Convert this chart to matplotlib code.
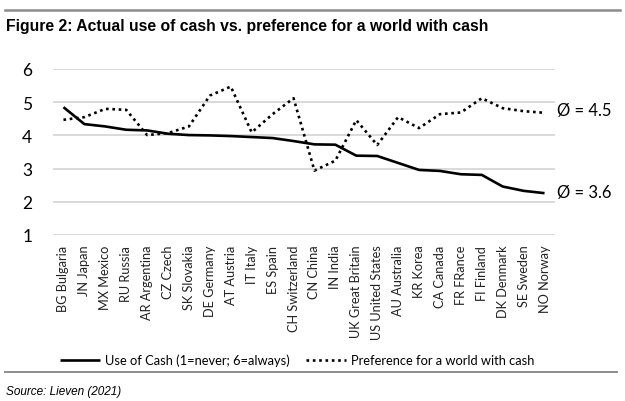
import matplotlib
matplotlib.use("Agg")
import matplotlib.pyplot as plt
from matplotlib.lines import Line2D

countries = ["BG Bulgaria", "JN Japan", "MX Mexico", "RU Russia", "AR Argentina", "CZ Czech",
             "SK Slovakia", "DE Germany", "AT Austria", "IT Italy", "ES Spain", "CH Switzerland",
             "CN China", "IN India", "UK Great Britain", "US United States", "AU Australia",
             "KR Korea", "CA Canada", "FR FRance", "FI Finland", "DK Denmark", "SE Sweden", "NO Norway"]
use_of_cash = [4.85, 4.34, 4.27, 4.17, 4.15, 4.05, 4.01, 4.00, 3.98, 3.95, 3.92, 3.83,
               3.73, 3.72, 3.39, 3.38, 3.17, 2.96, 2.93, 2.83, 2.81, 2.46, 2.33, 2.26]
preference = [4.47, 4.55, 4.80, 4.77, 4.01, 4.07, 4.27, 5.20, 5.47, 4.09, 4.64, 5.12,
              2.94, 3.24, 4.46, 3.71, 4.55, 4.22, 4.64, 4.69, 5.12, 4.82, 4.73, 4.68]
yticks = [1, 2, 3, 4, 5, 6]
avg_use = "Ø = 3.6"
avg_pref = "Ø = 4.5"
legend_labels = ["Use of Cash (1=never; 6=always)", "Preference for a world with cash"]
title = "Figure 2: Actual use of cash vs. preference for a world with cash"
source = "Source: Lieven (2021)"

W, H = 625, 402
fig = plt.figure(figsize=(W / 100, H / 100), dpi=100)
fig.patch.set_facecolor("white")

ax = fig.add_axes([53 / W, (H - 236) / H, (555 - 53) / W, (236 - 70) / H])
x = list(range(len(countries)))
l1, = ax.plot(x, use_of_cash, color="black", lw=1.9, solid_capstyle="butt", clip_on=False)
l2, = ax.plot(x, preference, color="black", lw=1.9, linestyle=(0, (1, 1.4)), clip_on=False)
ax.set_xlim(-0.5, len(countries) - 0.5)
ax.set_ylim(1, 6)
ax.set_yticks(yticks)
ax.set_yticklabels([str(t) for t in yticks], fontsize=12.5, family="Lato")
ax.yaxis.grid(True, color="#d9d9d9", lw=1.4)
ax.set_axisbelow(True)
ax.set_xticks(x)
ax.set_xticklabels(countries, rotation=90, fontsize=9.2, family="Lato", color="#222222")
ax.tick_params(axis="both", length=0)
ax.tick_params(axis="y", pad=15)
ax.tick_params(axis="x", pad=7)
for s in ax.spines.values():
    s.set_visible(False)

ax.annotate(avg_pref, xy=(len(countries) - 1, preference[-1]), xytext=(9, 2),
            textcoords="offset points", fontsize=12, family="Lato", va="center", ha="left",
            annotation_clip=False)
ax.annotate(avg_use, xy=(len(countries) - 1, use_of_cash[-1]), xytext=(9, 1),
            textcoords="offset points", fontsize=12, family="Lato", va="center", ha="left",
            annotation_clip=False)

fig.legend([l1, l2], legend_labels, ncol=2, frameon=False, loc="center",
           bbox_to_anchor=(297 / W, (H - 361) / H),
           prop={"family": "Lato", "size": 9.3},
           handlelength=3.1, handletextpad=0.35, columnspacing=1.3)

fig.add_artist(Line2D([5 / W, 620 / W], [(H - 11) / H] * 2, color="#8c8c8c", lw=1.8))
fig.add_artist(Line2D([5 / W, 617 / W], [(H - 373) / H] * 2, color="#8c8c8c", lw=1.4))
fig.text(6 / W, (H - 27) / H, title, fontsize=11.3, fontweight="bold",
         family="Liberation Sans", va="center", ha="left")
fig.text(6 / W, (H - 392) / H, source, fontsize=8.5, style="italic",
         family="Liberation Sans", va="center", ha="left")

fig.savefig("out.png", dpi=100)
